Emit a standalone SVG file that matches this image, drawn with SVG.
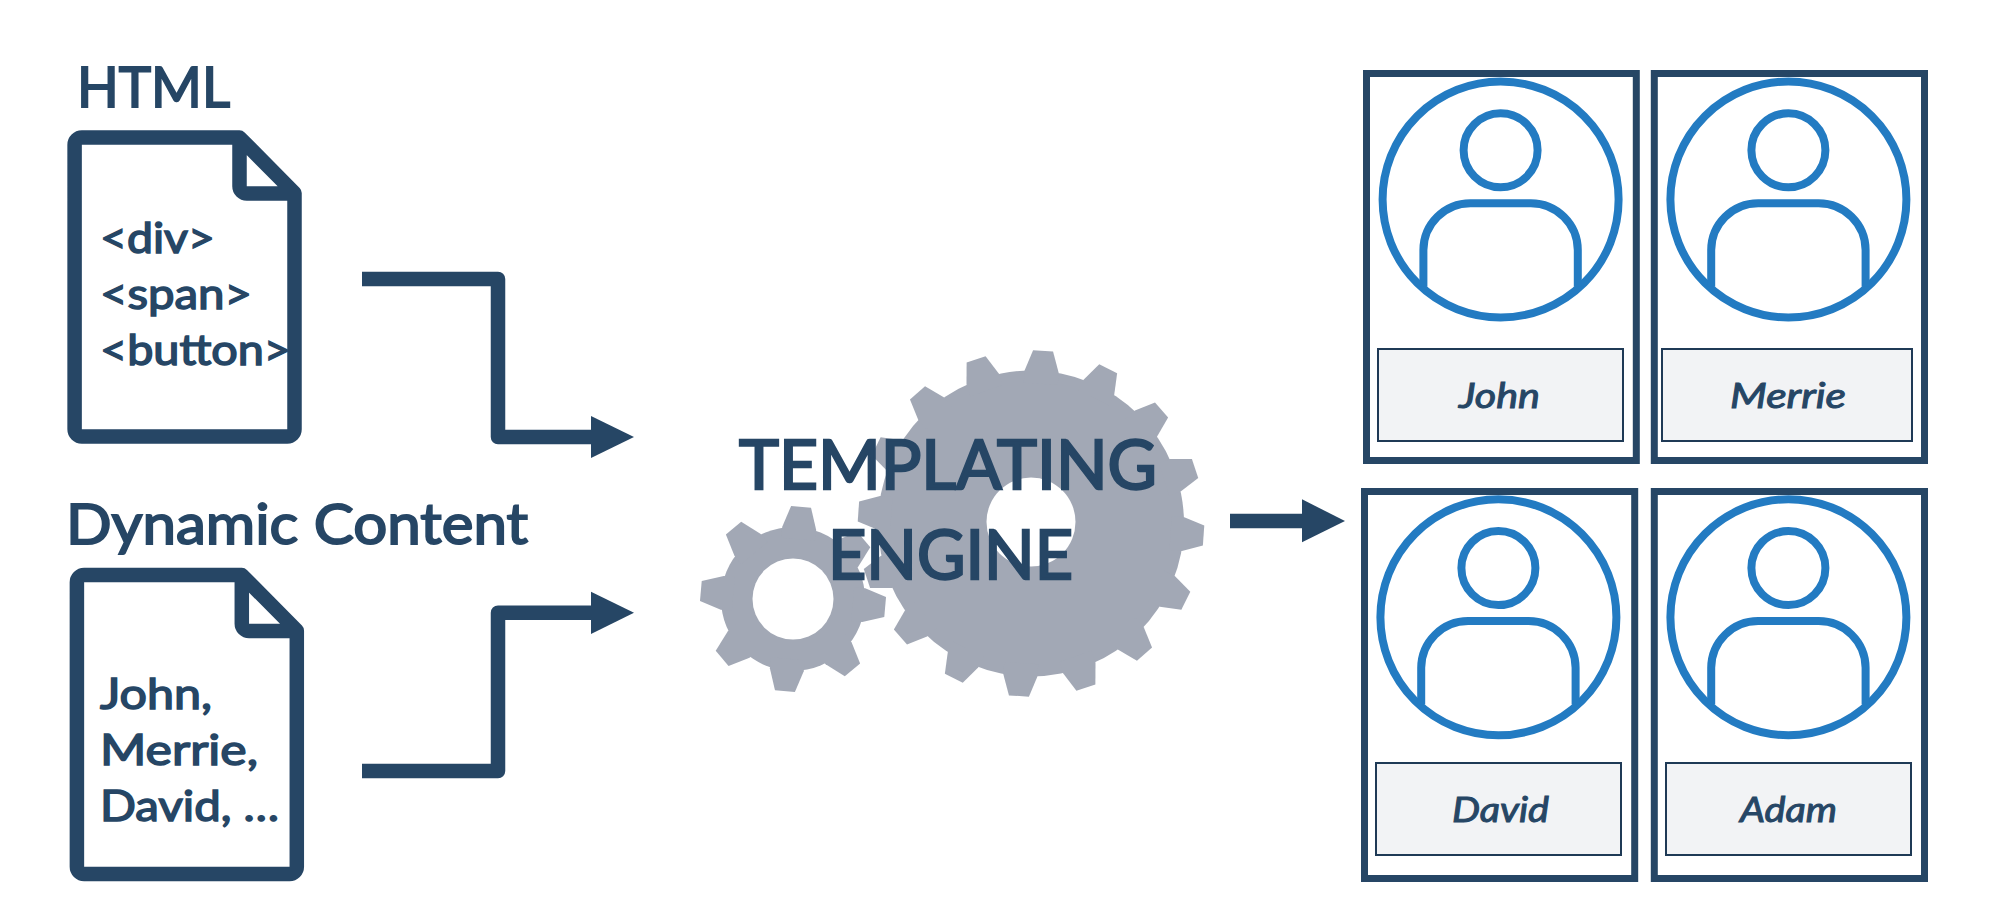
<svg xmlns="http://www.w3.org/2000/svg" xmlns:xlink="http://www.w3.org/1999/xlink" width="2004" height="900" viewBox="0 0 2004 900">
<style>
text{font-family:"Lato","Open Sans","Liberation Sans",sans-serif;fill:#264665;stroke:#264665;font-weight:400}
.h{font-size:56px;stroke-width:1.9px}
.d{font-size:42px;stroke-width:1.5px}
.t{font-size:68px;stroke-width:2.4px}
.n{font-size:35px;font-style:italic;stroke-width:1px}
.doc{fill:none;stroke:#264665;stroke-width:14.5;stroke-linejoin:round}
.card{fill:#fff;stroke:#264665;stroke-width:7}
.lab{fill:#F2F3F5;stroke:#1F3A56;stroke-width:2}
.p{fill:none;stroke:#237BC2;stroke-width:8}
.c{fill:none;stroke:#264665;stroke-width:14.5;stroke-linejoin:round}
.a{fill:#264665}
</style>
<defs>
<path id="docshape" d="M81.8,137.5 H239.5 L294.5,193 V429.3 a7.2,7.2 0 0 1 -7.2,7.2 H81.8 a7.2,7.2 0 0 1 -7.2,-7.2 V144.7 a7.2,7.2 0 0 1 7.2,-7.2 Z M239.5,137.5 V186.2 a7.3,7.3 0 0 0 7.3,7.3 H294.5"/>
<g id="person">
<circle r="118"/>
<circle cx="0" cy="-49.2" r="37"/>
<path d="M-77.2,87 V50.5 A47,47 0 0 1 -30.2,3.8 H30.2 A47,47 0 0 1 77.2,50.5 V87"/>
</g>
<polygon id="bt" points="-17,-140 -17,-152.5 -10,-173 10,-173 17,-152.5 17,-140"/>
<g id="biggear">
<circle r="153"/>
<use href="#bt" transform="rotate(4)"/><use href="#bt" transform="rotate(26.5)"/><use href="#bt" transform="rotate(49)"/><use href="#bt" transform="rotate(71.5)"/>
<use href="#bt" transform="rotate(94)"/><use href="#bt" transform="rotate(116.5)"/><use href="#bt" transform="rotate(139)"/><use href="#bt" transform="rotate(161.5)"/>
<use href="#bt" transform="rotate(184)"/><use href="#bt" transform="rotate(206.5)"/><use href="#bt" transform="rotate(229)"/><use href="#bt" transform="rotate(251.5)"/>
<use href="#bt" transform="rotate(274)"/><use href="#bt" transform="rotate(296.5)"/><use href="#bt" transform="rotate(319)"/><use href="#bt" transform="rotate(341.5)"/>
</g>
<polygon id="st" points="-17,-60 -17,-71 -10,-92.5 10,-92.5 17,-71 17,-60"/>
<g id="smallgear">
<circle r="72"/>
<use href="#st" transform="rotate(5)"/><use href="#st" transform="rotate(50)"/><use href="#st" transform="rotate(95)"/><use href="#st" transform="rotate(140)"/>
<use href="#st" transform="rotate(185)"/><use href="#st" transform="rotate(230)"/><use href="#st" transform="rotate(275)"/><use href="#st" transform="rotate(320)"/>
</g>
</defs>
<rect width="2004" height="900" fill="#fff"/>

<g id="node-html">
<use href="#docshape" class="doc"/>
<text class="h" x="77" y="106.5" textLength="153" lengthAdjust="spacingAndGlyphs">HTML</text>
<text class="d" x="100" y="252.5" textLength="115" lengthAdjust="spacingAndGlyphs">&lt;div&gt;</text>
<text class="d" x="100" y="308.5" textLength="152" lengthAdjust="spacingAndGlyphs">&lt;span&gt;</text>
<text class="d" x="100" y="365" textLength="191" lengthAdjust="spacingAndGlyphs">&lt;button&gt;</text>
</g>

<g id="node-dynamic">
<use href="#docshape" class="doc" transform="translate(2.3,437.5)"/>
<text class="h" x="66" y="544" textLength="462" lengthAdjust="spacingAndGlyphs">Dynamic Content</text>
<text class="d" x="100" y="709" textLength="112" lengthAdjust="spacingAndGlyphs">John,</text>
<text class="d" x="100" y="765" textLength="158" lengthAdjust="spacingAndGlyphs">Merrie,</text>
<text class="d" x="100" y="821" textLength="179" lengthAdjust="spacingAndGlyphs">David, …</text>
</g>

<g id="node-engine">
<g fill="#A2A8B5"><use href="#smallgear" transform="translate(793,599)"/></g>
<g fill="#fff" stroke="#fff" stroke-width="3"><use href="#biggear" transform="translate(1031,523.5)"/></g>
<g fill="#A2A8B5"><use href="#biggear" transform="translate(1031,523.5)"/></g>
<circle cx="1031" cy="522" r="44.5" fill="#fff"/>
<circle cx="793" cy="599" r="40.5" fill="#fff"/>
<text class="t" x="739" y="488.5" textLength="418" lengthAdjust="spacingAndGlyphs">TEMPLATING</text>
<text class="t" x="828" y="578.5" textLength="245" lengthAdjust="spacingAndGlyphs">ENGINE</text>
</g>

<g id="connectors">
<path class="c" d="M362,279 H498 V437 H595"/>
<polygon class="a" points="591,416 634,437 591,458"/>
<path class="c" d="M362,771 H498 V612.7 H595"/>
<polygon class="a" points="591,591.7 634,612.7 591,634"/>
<path class="c" d="M1230,521 H1306" stroke-linejoin="miter"/>
<polygon class="a" points="1302,499.3 1345,521 1302,542.3"/>
</g>

<g id="node-john">
<rect class="card" x="1366.5" y="73.5" width="269.8" height="387"/>
<use href="#person" class="p" transform="translate(1500.6,199.5)"/>
<rect class="lab" x="1378" y="349" width="245" height="92"/>
<text class="n" x="1459" y="407.5" textLength="81" lengthAdjust="spacingAndGlyphs">John</text>
</g>
<g id="node-merrie">
<rect class="card" x="1654.3" y="73.5" width="270.2" height="387"/>
<use href="#person" class="p" transform="translate(1788.4,199.5)"/>
<rect class="lab" x="1662" y="349" width="250" height="92"/>
<text class="n" x="1730" y="408" textLength="116" lengthAdjust="spacingAndGlyphs">Merrie</text>
</g>
<g id="node-david">
<rect class="card" x="1364.5" y="491.5" width="270.2" height="387"/>
<use href="#person" class="p" transform="translate(1498.4,617.3)"/>
<rect class="lab" x="1376" y="763" width="245" height="92"/>
<text class="n" x="1452" y="821.5" textLength="97" lengthAdjust="spacingAndGlyphs">David</text>
</g>
<g id="node-adam">
<rect class="card" x="1654.3" y="491.5" width="270.2" height="387"/>
<use href="#person" class="p" transform="translate(1788.4,617.3)"/>
<rect class="lab" x="1666" y="763" width="245" height="92"/>
<text class="n" x="1740" y="821.5" textLength="97" lengthAdjust="spacingAndGlyphs">Adam</text>
</g>
</svg>
